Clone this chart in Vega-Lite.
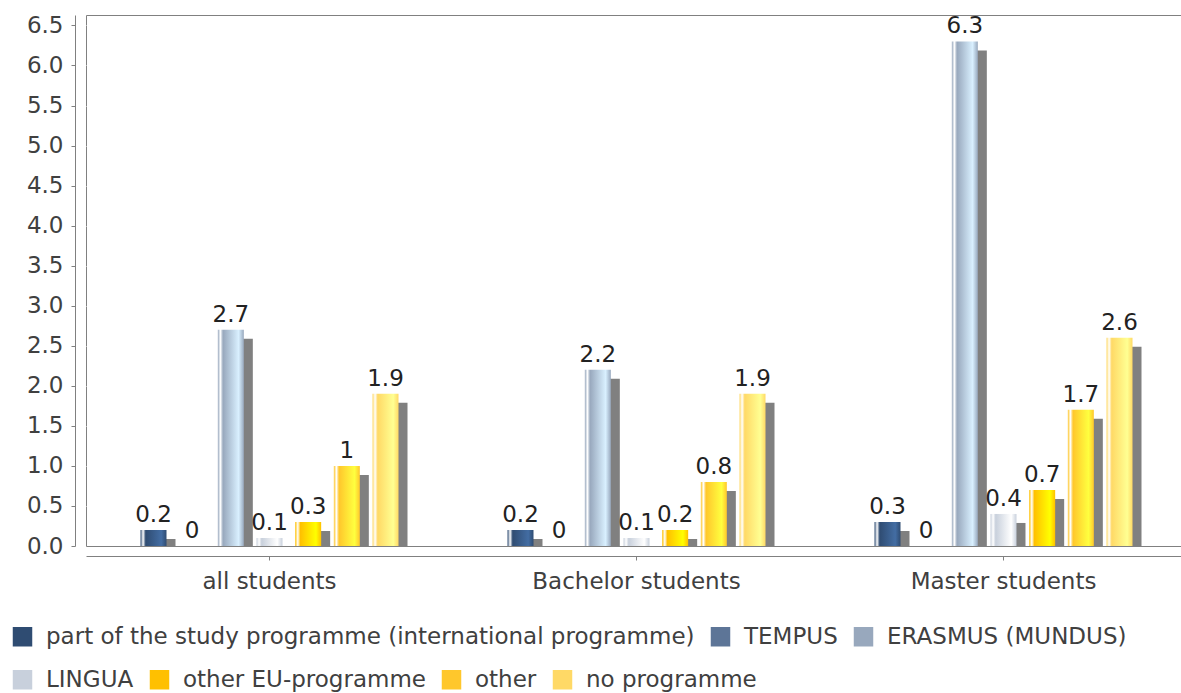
{
  "$schema": "https://vega.github.io/schema/vega-lite/v6.json",
  "width": 1095,
  "height": 531,
  "autosize": "none",
  "padding": {"left": 86, "top": 15, "right": 0, "bottom": 147},
  "background": "#ffffff",
  "config": {
    "font": "DejaVu Sans",
    "view": {"fill": "#c0c0c0", "stroke": "#808080", "strokeWidth": 1},
    "axis": {
      "labelFont": "DejaVu Sans",
      "labelFontSize": 23,
      "labelColor": "#404040",
      "domainColor": "#808080",
      "tickColor": "#808080",
      "tickSize": 4
    },
    "legend": {
      "symbolType": "square",
      "symbolSize": 380,
      "symbolStrokeWidth": 0,
      "symbolOpacity": 1,
      "labelFont": "DejaVu Sans",
      "labelFontSize": 23,
      "labelColor": "#404040",
      "labelOffset": 12,
      "labelLimit": 2000,
      "columnPadding": 14,
      "padding": 0
    }
  },
  "data": {
    "values": [
      {"cat": "all students", "series": "part of the study programme (international programme)", "value": 0.2},
      {"cat": "all students", "series": "TEMPUS", "value": 0},
      {"cat": "all students", "series": "ERASMUS (MUNDUS)", "value": 2.7},
      {"cat": "all students", "series": "LINGUA", "value": 0.1},
      {"cat": "all students", "series": "other EU-programme", "value": 0.3},
      {"cat": "all students", "series": "other", "value": 1},
      {"cat": "all students", "series": "no programme", "value": 1.9},
      {"cat": "Bachelor students", "series": "part of the study programme (international programme)", "value": 0.2},
      {"cat": "Bachelor students", "series": "TEMPUS", "value": 0},
      {"cat": "Bachelor students", "series": "ERASMUS (MUNDUS)", "value": 2.2},
      {"cat": "Bachelor students", "series": "LINGUA", "value": 0.1},
      {"cat": "Bachelor students", "series": "other EU-programme", "value": 0.2},
      {"cat": "Bachelor students", "series": "other", "value": 0.8},
      {"cat": "Bachelor students", "series": "no programme", "value": 1.9},
      {"cat": "Master students", "series": "part of the study programme (international programme)", "value": 0.3},
      {"cat": "Master students", "series": "TEMPUS", "value": 0},
      {"cat": "Master students", "series": "ERASMUS (MUNDUS)", "value": 6.3},
      {"cat": "Master students", "series": "LINGUA", "value": 0.4},
      {"cat": "Master students", "series": "other EU-programme", "value": 0.7},
      {"cat": "Master students", "series": "other", "value": 1.7},
      {"cat": "Master students", "series": "no programme", "value": 2.6}
    ]
  },
  "layer": [
    {
      "mark": {"type": "bar", "color": "#808080", "yOffset": 9, "clip": true},
      "encoding": {
        "x": {"field": "cat", "type": "nominal", "sort": null, "title": null,
              "scale": {"range": [0, 1101], "paddingInner": 0, "paddingOuter": 0}},
        "xOffset": {"field": "series", "type": "nominal", "sort": null,
                    "scale": {"range": [63.5, 321.5], "paddingInner": 0.3277, "paddingOuter": 0}},
        "y": {"field": "value", "type": "quantitative", "title": null,
              "scale": {"domain": [0, 6.63], "nice": false}}
      }
    },
    {
      "mark": {"type": "bar"},
      "encoding": {
        "x": {"field": "cat", "type": "nominal", "sort": null, "title": null,
              "scale": {"range": [0, 1101], "paddingInner": 0, "paddingOuter": 0},
              "axis": {"labelAngle": 0, "labelAlign": "center", "labelLimit": 1000, "offset": 10, "labelPadding": 21, "domainColor": "#808080"}},
        "xOffset": {"field": "series", "type": "nominal", "sort": null,
                    "scale": {"range": [54.5, 312.5], "paddingInner": 0.3277, "paddingOuter": 0}},
        "y": {"field": "value", "type": "quantitative", "title": null,
              "scale": {"domain": [0, 6.63], "nice": false},
              "axis": {"values": [0, 0.5, 1, 1.5, 2, 2.5, 3, 3.5, 4, 4.5, 5, 5.5, 6, 6.5],
                       "format": ".1f", "offset": 11, "labelPadding": 8,
                       "grid": true, "gridColor": "#ffffff", "gridDash": [6, 4],
                       "gridOpacity": {"condition": {"test": "datum.value === 0", "value": 0}, "value": 0.9}}},
        "color": {
          "condition": [
            {"test": "datum.series === 'part of the study programme (international programme)'",
             "value": {"gradient": "linear", "x1": 0, "y1": 0, "x2": 1, "y2": 0,
                       "stops": [{"offset": 0, "color": "#2f4c72"}, {"offset": 0.1, "color": "#ffffff"}, {"offset": 0.2, "color": "#2f4c72"}, {"offset": 0.8, "color": "#436da3"}, {"offset": 1, "color": "#2f4c72"}]}},
            {"test": "datum.series === 'TEMPUS'",
             "value": {"gradient": "linear", "x1": 0, "y1": 0, "x2": 1, "y2": 0,
                       "stops": [{"offset": 0, "color": "#5d7597"}, {"offset": 0.1, "color": "#ffffff"}, {"offset": 0.2, "color": "#5d7597"}, {"offset": 0.8, "color": "#85a7d8"}, {"offset": 1, "color": "#5d7597"}]}},
            {"test": "datum.series === 'ERASMUS (MUNDUS)'",
             "value": {"gradient": "linear", "x1": 0, "y1": 0, "x2": 1, "y2": 0,
                       "stops": [{"offset": 0, "color": "#98a8bd"}, {"offset": 0.1, "color": "#ffffff"}, {"offset": 0.2, "color": "#98a8bd"}, {"offset": 0.8, "color": "#d9f0ff"}, {"offset": 1, "color": "#98a8bd"}]}},
            {"test": "datum.series === 'LINGUA'",
             "value": {"gradient": "linear", "x1": 0, "y1": 0, "x2": 1, "y2": 0,
                       "stops": [{"offset": 0, "color": "#c8d0dc"}, {"offset": 0.1, "color": "#ffffff"}, {"offset": 0.2, "color": "#c8d0dc"}, {"offset": 0.8, "color": "#ffffff"}, {"offset": 1, "color": "#c8d0dc"}]}},
            {"test": "datum.series === 'other EU-programme'",
             "value": {"gradient": "linear", "x1": 0, "y1": 0, "x2": 1, "y2": 0,
                       "stops": [{"offset": 0, "color": "#ffc000"}, {"offset": 0.1, "color": "#ffffff"}, {"offset": 0.2, "color": "#ffc000"}, {"offset": 0.8, "color": "#ffff00"}, {"offset": 1, "color": "#ffc000"}]}},
            {"test": "datum.series === 'other'",
             "value": {"gradient": "linear", "x1": 0, "y1": 0, "x2": 1, "y2": 0,
                       "stops": [{"offset": 0, "color": "#ffc72c"}, {"offset": 0.1, "color": "#ffffff"}, {"offset": 0.2, "color": "#ffc72c"}, {"offset": 0.8, "color": "#ffff3f"}, {"offset": 1, "color": "#ffc72c"}]}}
          ],
          "value": {"gradient": "linear", "x1": 0, "y1": 0, "x2": 1, "y2": 0,
                    "stops": [{"offset": 0, "color": "#ffd966"}, {"offset": 0.1, "color": "#ffffff"}, {"offset": 0.2, "color": "#ffd966"}, {"offset": 0.8, "color": "#ffff92"}, {"offset": 1, "color": "#ffd966"}]}
        }
      }
    },
    {
      "mark": {"type": "text", "baseline": "alphabetic", "dy": -8, "fontSize": 23, "color": "#222222", "font": "DejaVu Sans"},
      "encoding": {
        "x": {"field": "cat", "type": "nominal", "sort": null, "title": null,
              "scale": {"range": [0, 1101], "paddingInner": 0, "paddingOuter": 0}},
        "xOffset": {"field": "series", "type": "nominal", "sort": null,
                    "scale": {"type": "band", "range": [54.5, 312.5], "paddingInner": 0.3277, "paddingOuter": 0}},
        "y": {"field": "value", "type": "quantitative", "title": null,
              "scale": {"domain": [0, 6.63], "nice": false}},
        "text": {"field": "value", "type": "quantitative"}
      }
    },
    {
      "transform": [{"filter": "false"}],
      "mark": {"type": "square"},
      "encoding": {
        "color": {"field": "series", "type": "nominal",
                  "scale": {"domain": ["part of the study programme (international programme)", "TEMPUS", "ERASMUS (MUNDUS)"],
                            "range": ["#2f4c72", "#5d7597", "#98a8bd"]},
                  "legend": {"orient": "none", "legendX": -75, "legendY": 610, "direction": "horizontal", "title": null}}
      }
    },
    {
      "transform": [{"filter": "false"}],
      "mark": {"type": "square"},
      "encoding": {
        "color": {"field": "series", "type": "nominal",
                  "scale": {"domain": ["LINGUA", "other EU-programme", "other", "no programme"],
                            "range": ["#c8d0dc", "#ffc000", "#ffc72c", "#ffd966"]},
                  "legend": {"orient": "none", "legendX": -75, "legendY": 653, "direction": "horizontal", "title": null}}
      }
    }
  ],
  "resolve": {"scale": {"xOffset": "independent", "color": "independent"}}
}
